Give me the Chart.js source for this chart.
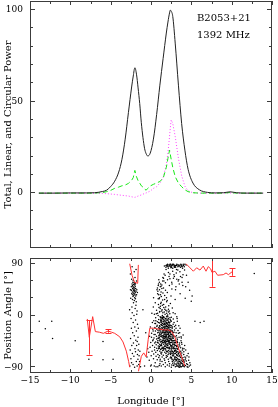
<!DOCTYPE html>
<html>
<head>
<meta charset="utf-8">
<script src="https://cdn.jsdelivr.net/npm/chart.js@4.4.0/dist/chart.umd.min.js"></script>
<style>
  html, body { margin: 0; padding: 0; background: #fff; }
  #wrap { position: relative; width: 278px; height: 407px; }
  canvas { position: absolute; left: 0; }
</style>
</head>
<body>
<div id="wrap">
  <canvas id="profile" width="278" height="250" style="top:0"></canvas>
  <canvas id="angle" width="278" height="157" style="top:250px"></canvas>
</div>
<script>
// B2053+21 at 1392 MHz: pulse profile (top) and polarization angle (bottom)

// ---- top panel: total, linear and circular power vs longitude ----
const profLon = [-13.9, -12, -10, -8, -7, -6, -5.5, -5, -4.5, -4, -3.6, -3.2, -2.8, -2.4, -2.2, -2.0,
  -1.8, -1.6, -1.4, -1.2, -1.0, -0.8, -0.6, -0.4, -0.1, 0.3, 0.7, 1.1, 1.5, 1.9, 2.1, 2.3, 2.4, 2.5,
  2.7, 3.0, 3.4, 3.8, 4.2, 4.6, 5.2, 6.0, 7.0, 8.0, 9.0, 9.8, 10.6, 12, 13.9];
const totalI = [0, 0, 0.1, 0.1, 0.2, 0.9, 1.6, 3.6, 6.5, 11.5, 18.5, 29.5, 44, 58, 64, 68.5,
  65, 57.5, 49, 38.5, 30.5, 24.5, 21.5, 20.3, 21.8, 29.5, 43, 59, 73.5, 87.5, 93.5, 98.5, 100, 99.5,
  96.5, 82, 59, 38, 23.5, 13, 5.5, 1.8, 0.4, 0.1, 0.2, 0.7, 0.2, 0, 0];
const linearL = [0, 0, 0, 0, 0, 0.3, 0.8, 1.5, 2.6, 3.3, 4, 4.4, 5.3, 7, 8.5, 12.4,
  9, 6.8, 5.5, 4, 3.3, 2.2, 1.6, 2.6, 3.9, 4.8, 5.5, 6.4, 8, 14, 19, 23.5, 21, 18.5,
  14, 9, 5.5, 3.5, 1.8, 0.8, 0.2, 0, 0, 0, 0, 0.3, 0, 0, 0];
const circV = [0, 0, 0, 0, -0.1, -0.2, -0.3, -0.5, -0.7, -1, -1.2, -1.4, -1.6, -2, -2.2, -2.3,
  -2, -1.6, -1.3, -1, -0.6, -0.2, 0.1, 0.5, 1.1, 2.6, 3.5, 5.5, 8.5, 15.5, 22, 31, 36, 40,
  38, 31, 19, 9.5, 3.8, 1.2, 0.2, 0, 0, 0, 0, 0.1, 0, 0, 0];

// ---- bottom panel: average position angle (null = wrap at +/-90) ----
const paLon = [-7.9, -7.65, -7.23, -6.9, -6.4, -5.9, -5.33, -4.9, -4.5, -3.88, -3.47, -3.06, -2.77, -2.64,
  -2.64,
  -2.64, -2.35, -2.05, -1.65, -1.57,
  -1.57,
  -1.55, -1.2, -0.9, -0.6, -0.35, -0.15, 0.3, 0.7, 1.1, 1.53, 2.15, 2.56, 2.97, 3.38, 3.8, 4.2,
  4.3,
  4.34, 4.83, 5.25, 5.66, 6.07, 6.48, 6.82, 7.1, 7.4, 7.56, 7.93, 8.26, 8.96, 9.3, 9.59, 10.05];
const paVal = [-6, -38, -2, -28, -29, -31, -27, -29, -31, -37, -46, -62, -80, -90,
  null,
  90, 70, 58, 56, 88,
  null,
  -97, -71, -65, -72, -42, -22, -22, -23, -24, -25, -25, -28, -38, -56, -72, -88,
  null,
  90, 83, 77, 83, 79, 86, 77, 85, 81, 75, 77, 70, 71, 74, 71, 76];
const errLon = [-7.65, -5.33, 7.56, 10.05];
const errLow = [-68, -30, 50, 69];
const errHigh = [-8, -24, 100, 82];

// single-pulse position angles, flat lon,pa pairs
const cloudSparse = [-13.85,-10, -13.1,-23, -12.3,-10, -12.2,-40, -9.4,-44, -7.7,-76, -5.95,-77, -5.95,-45,
  -4.7,-76, 5.45,-10, 6.57,-10, 12.8,73, 5.1,34, 6.1,-12, -0.8,-88, -0.5,-72, -0.65,-30, -1.0,10, -0.4,-58];

const cloudColumn = [-2.62,-88, -2.58,-60, -2.65,10, -2.55,45, -2.49,-75, -2.53,-40, -2.47,-5, -2.51,30,
  -2.44,50, -2.56,72, -2.41,-82, -2.38,-52, -2.43,-22, -2.36,15, -2.39,38, -2.42,44, -2.35,55, -2.4,63,
  -2.31,-66, -2.27,-30, -2.33,5, -2.29,28, -2.26,36, -2.32,41, -2.28,47, -2.3,52, -2.25,58, -2.34,85,
  -2.22,-85, -2.18,-48, -2.21,-12, -2.17,22, -2.23,33, -2.19,39, -2.16,43, -2.2,46, -2.24,50, -2.15,54,
  -2.21,61, -2.12,-71, -2.08,-35, -2.11,0, -2.07,26, -2.13,35, -2.09,38, -2.06,42, -2.1,45, -2.14,49,
  -2.05,53, -2.11,57, -2.08,76, -2.03,-90, -1.98,-58, -2.01,-20, -1.97,12, -2.02,31, -1.99,37, -1.96,40,
  -2.0,44, -2.04,48, -1.95,51, -2.01,56, -1.98,66, -1.92,-63, -1.88,-43, -1.91,-8, -1.87,18, -1.93,29,
  -1.89,34, -1.86,42, -1.9,47, -1.94,55, -1.85,80, -1.82,-80, -1.78,-52, -1.81,-27, -1.77,2, -1.83,24,
  -1.79,36, -1.76,45, -1.8,60, -1.72,-88, -1.68,-68, -1.71,-45, -1.67,-15, -1.73,8, -1.69,40,
  -1.62,-76, -1.58,-60, -1.61,-38, -1.57,-22, -1.52,-85, -1.48,-70, -1.51,-50, -1.42,-80, -1.38,-62, -1.3,-89];

const cloudMain = [
  -0.22,-78, -0.12,-55, -0.05,-88, -0.18,-36, -0.08,-20, -0.27,-64, -0.03,-47,
  0.04,-86, 0.13,-62, 0.21,-44, 0.08,-31, 0.17,-12, 0.02,-70, 0.23,-24, 0.11,4, 0.19,-52, 0.06,-38,
  0.31,-75, 0.44,-60, 0.27,-42, 0.38,-33, 0.48,-21, 0.35,-9, 0.42,2, 0.29,15, 0.46,-48, 0.33,-67,
  0.4,-88, 0.26,-27, 0.49,-14, 0.37,-39, 0.45,-55, 0.32,31,
  0.52,-82, 0.63,-71, 0.71,-57, 0.57,-46, 0.68,-36, 0.55,-27, 0.73,-19, 0.6,-9, 0.66,3, 0.53,22,
  0.74,45, 0.59,-64, 0.7,-41, 0.51,-33, 0.64,-51, 0.72,-24, 0.56,-14, 0.69,9, 0.62,-89, 0.58,-4,
  0.77,-77, 0.86,-68, 0.94,-58, 0.8,-47, 0.91,-39, 0.83,-30, 0.97,-21, 0.78,-11, 0.88,0, 0.99,14,
  0.82,38, 0.93,55, 0.85,-89, 0.96,-73, 0.79,-61, 0.9,-53, 0.84,-44, 0.98,-35, 0.87,-26, 0.76,-17,
  0.95,-7, 0.81,4, 0.92,19, 0.89,29, 0.8,48, 0.97,62,
  1.02,-87, 1.14,-76, 1.21,-65, 1.07,-54, 1.18,-46, 1.04,-38, 1.23,-29, 1.11,-22, 1.06,-13, 1.2,-4,
  1.09,7, 1.16,16, 1.01,29, 1.24,51, 1.12,-79, 1.05,-70, 1.19,-59, 1.08,-50, 1.22,-42, 1.03,-34,
  1.15,-27, 1.1,-19, 1.24,-11, 1.13,-2, 1.06,6, 1.2,21, 1.17,36, 1.04,58, 1.11,-84, 1.23,-16,
  1.09,-31, 1.18,-8, 1.02,-44, 1.14,12, 1.21,-36, 1.07,-25,
  1.27,-88, 1.38,-72, 1.46,-61, 1.31,-52, 1.42,-44, 1.29,-37, 1.48,-30, 1.35,-21, 1.26,-12, 1.44,-5,
  1.33,8, 1.4,18, 1.28,33, 1.47,66, 1.36,-80, 1.3,-67, 1.43,-57, 1.34,-49, 1.49,-41, 1.27,-34,
  1.39,-27, 1.45,-18, 1.32,-9, 1.41,0, 1.37,10, 1.26,23, 1.48,39, 1.35,53, 1.3,-24, 1.43,-14,
  1.38,-46, 1.46,-3, 1.28,-58, 1.4,-35, 1.33,-17, 1.47,5, 1.29,-6, 1.44,27,
  1.52,-85, 1.63,-75, 1.71,-64, 1.57,-55, 1.68,-46, 1.54,-39, 1.73,-31, 1.6,-24, 1.66,-16, 1.51,-7,
  1.74,2, 1.59,14, 1.69,28, 1.55,48, 1.62,72, 1.7,-78, 1.53,-69, 1.65,-58, 1.58,-50, 1.72,-43,
  1.56,-36, 1.67,-29, 1.61,-21, 1.74,-13, 1.52,-3, 1.64,6, 1.57,19, 1.7,35, 1.6,60, 1.66,86,
  1.54,-27, 1.72,-19, 1.58,-11, 1.68,-37, 1.63,-4, 1.51,-47, 1.73,-8, 1.56,-60, 1.69,-53, 1.62,-33,
  1.55,-15, 1.71,11,
  1.77,-89, 1.88,-73, 1.96,-62, 1.82,-53, 1.93,-45, 1.79,-38, 1.98,-32, 1.85,-25, 1.91,-17, 1.76,-10,
  1.99,-1, 1.84,9, 1.94,24, 1.8,44, 1.87,80, 1.95,88, 1.78,-82, 1.9,-70, 1.83,-60, 1.97,-51,
  1.81,-44, 1.92,-37, 1.86,-30, 1.99,-23, 1.77,-15, 1.89,-6, 1.95,4, 1.82,15, 1.92,31, 1.79,57,
  1.86,87, 1.84,-41, 1.96,-28, 1.76,-20, 1.9,-12, 1.8,-48, 1.98,-56, 1.87,-35, 1.93,-2, 1.78,-27,
  1.85,-66, 1.97,8, 1.89,-19,
  2.02,-86, 2.14,-76, 2.21,-65, 2.07,-56, 2.18,-48, 2.04,-41, 2.23,-34, 2.11,-27, 2.06,-19, 2.2,-11,
  2.09,-2, 2.16,11, 2.01,26, 2.24,68, 2.12,85, 2.05,89, 2.19,-80, 2.03,-71, 2.15,-61, 2.08,-52,
  2.22,-45, 2.1,-38, 2.17,-31, 2.05,-24, 2.24,-16, 2.13,-8, 2.07,1, 2.2,17, 2.02,40, 2.16,75,
  2.09,88, 2.22,-22, 2.11,-43, 2.04,-13, 2.18,-36, 2.14,-5, 2.23,-57, 2.06,-29, 2.12,-68, 2.19,6,
  2.01,-49, 2.15,-18,
  2.27,-88, 2.38,-74, 2.46,-64, 2.31,-55, 2.42,-47, 2.29,-40, 2.48,-33, 2.35,-26, 2.26,-18, 2.44,-9,
  2.33,3, 2.4,21, 2.28,52, 2.47,83, 2.36,87, 2.3,-84, 2.43,-72, 2.34,-62, 2.49,-54, 2.27,-46,
  2.39,-39, 2.45,-32, 2.32,-25, 2.41,-17, 2.37,-7, 2.26,8, 2.48,34, 2.35,64, 2.3,86, 2.44,89,
  2.29,-29, 2.46,-21, 2.38,-50, 2.33,-12, 2.42,-68, 2.27,-58, 2.47,-42, 2.36,-36,
  2.52,-90, 2.63,-77, 2.71,-67, 2.57,-58, 2.68,-50, 2.54,-43, 2.73,-36, 2.6,-28, 2.66,-20, 2.51,-10,
  2.74,5, 2.59,46, 2.69,77, 2.55,84, 2.62,88, 2.7,-83, 2.53,-73, 2.65,-63, 2.58,-55, 2.72,-48,
  2.56,-41, 2.67,-34, 2.61,-26, 2.74,-15, 2.52,-3, 2.64,13, 2.57,58, 2.7,82, 2.6,87, 2.66,-70,
  2.54,-60, 2.72,-30, 2.58,-86, 2.68,-44, 2.63,-22, 2.51,-52,
  2.77,-87, 2.88,-76, 2.96,-66, 2.82,-58, 2.93,-51, 2.79,-44, 2.98,-37, 2.85,-29, 2.91,-19, 2.76,-6,
  2.99,28, 2.84,71, 2.94,85, 2.8,89, 2.87,-81, 2.95,-72, 2.78,-64, 2.9,-57, 2.83,-50, 2.97,-43,
  2.81,-35, 2.92,-25, 2.86,-12, 2.99,3, 2.78,65, 2.9,84, 2.84,88, 2.96,-84, 2.8,-70, 2.93,-61,
  2.88,-47, 2.76,-39,
  3.02,-89, 3.14,-78, 3.21,-69, 3.07,-61, 3.18,-54, 3.04,-47, 3.23,-39, 3.11,-30, 3.06,-17, 3.2,-2,
  3.09,50, 3.16,80, 3.01,86, 3.12,-85, 3.05,-76, 3.19,-68, 3.08,-60, 3.22,-52, 3.03,-44, 3.15,-35,
  3.1,-22, 3.24,-5, 3.13,74, 3.06,87, 3.2,89, 3.17,-88, 3.01,-72, 3.11,-63, 3.24,-45, 3.04,45,
  3.27,-88, 3.38,-79, 3.46,-71, 3.31,-63, 3.42,-55, 3.29,-47, 3.48,-38, 3.35,-26, 3.26,-10, 3.44,62,
  3.33,85, 3.4,-83, 3.28,-75, 3.43,-67, 3.34,-59, 3.49,-51, 3.27,-42, 3.39,-31, 3.45,-18, 3.32,79,
  3.41,88, 3.36,-86, 3.47,-64, 3.3,-53, 3.37,60,
  3.52,-90, 3.63,-81, 3.71,-72, 3.57,-64, 3.68,-56, 3.54,-48, 3.73,-37, 3.6,-22, 3.66,68, 3.51,86,
  3.62,-86, 3.74,-78, 3.55,-70, 3.69,-62, 3.58,-53, 3.72,-44, 3.56,-30, 3.65,84, 3.7,89, 3.53,-80,
  3.67,-89, 3.61,38, 3.59,76,
  3.77,-89, 3.88,-80, 3.96,-73, 3.82,-65, 3.93,-57, 3.79,-47, 3.98,-34, 3.85,58, 3.91,82, 3.8,88,
  3.87,-84, 3.95,-77, 3.78,-69, 3.9,-60, 3.83,-50, 3.97,71, 3.84,86, 3.92,-88, 3.76,-39, 3.94,52,
  4.02,-88, 4.14,-81, 4.21,-72, 4.07,-63, 4.18,-52, 4.04,87, 4.11,-85, 4.23,-77, 4.06,-68, 4.16,79,
  4.2,89, 4.09,-58, 4.12,85, 4.24,30,
  4.27,-87, 4.38,-79, 4.46,-70, 4.31,-60, 4.42,-84, 4.35,88, 4.29,-74, 4.48,-89, 4.4,70,
  4.53,-85, 4.67,-78, 4.61,-66, 4.74,-88, 4.58,-90, 4.82,-82, 4.9,-86, 4.79,44, 4.99,25, 4.7,-72
];

// extra pulses in the dense core, the top strip and the mid-band
const cloudCore = [
  0.91,-48, 0.97,-29, 0.94,-12, 0.88,-40, 0.99,-55,
  1.03,-57, 1.08,-41, 1.13,-33, 1.19,-24, 1.24,-3, 1.16,-52, 1.05,-18, 1.22,-9, 1.1,-62, 1.01,-23,
  1.28,-45, 1.32,-31, 1.37,-3, 1.41,-22, 1.46,-38, 1.49,-11, 1.26,-51, 1.34,-64, 1.43,-29, 1.39,-55,
  1.3,-15, 1.47,-47,
  1.51,-26, 1.55,-43, 1.59,-35, 1.62,-9, 1.66,-45, 1.7,-22, 1.73,-54, 1.57,-2, 1.64,-40, 1.68,-14,
  1.53,-58, 1.6,-30, 1.72,-37, 1.65,-25, 1.56,-20, 1.74,-48,
  1.76,-33, 1.79,-5, 1.83,-46, 1.86,-22, 1.89,-39, 1.92,-55, 1.95,-14, 1.98,-42, 1.81,-29, 1.85,-50,
  1.9,-26, 1.94,-34, 1.97,-9, 1.78,-58, 1.88,-18, 1.93,-63, 1.8,-36, 1.99,-45,
  2.01,-33, 2.04,-52, 2.07,-15, 2.1,-25, 2.13,-45, 2.16,-39, 2.19,-21, 2.22,-30, 2.25,-50, 2.03,-8,
  2.08,-42, 2.12,-55, 2.17,-12, 2.21,-37, 2.24,-27, 2.06,-63, 2.14,-33, 2.2,-44, 2.02,-20,
  2.27,-35, 2.3,-48, 2.33,-20, 2.36,-58, 2.39,-30, 2.42,-41, 2.45,-25, 2.48,-62, 2.28,-13, 2.32,-43,
  2.38,-66, 2.44,-52, 2.47,-36, 2.35,-4, 2.41,-28,
  2.52,-47, 2.56,-33, 2.59,-66, 2.62,-38, 2.65,-53, 2.69,-29, 2.72,-57, 2.55,-18, 2.61,-46, 2.67,-62,
  2.73,-40, 2.58,-75, 2.64,-80,
  2.78,-55, 2.82,-67, 2.86,-44, 2.9,-62, 2.94,-74, 2.98,-58, 2.8,-78, 2.88,-53, 2.96,-48, 2.84,-86,
  3.03,-66, 3.08,-79, 3.12,-57, 3.17,-73, 3.22,-83, 3.05,-52, 3.15,-64, 3.2,-77,
  3.28,-70, 3.33,-81, 3.38,-66, 3.44,-76, 3.49,-86, 3.3,-58, 3.41,-89,
  3.55,-77, 3.6,-84, 3.66,-73, 3.71,-82, 3.57,-88, 3.64,-67,
  3.8,-83, 3.86,-75, 3.92,-86, 3.97,-80, 4.05,-78, 4.13,-89,
  1.85,84, 2.05,86, 2.25,88, 2.45,85, 2.65,89, 2.85,86, 3.05,84, 3.25,88, 3.45,86, 3.6,88,
  3.85,85, 4.0,89, 2.15,82, 2.55,86, 3.15,87, 3.75,86, 2.35,89, 2.95,87, 1.95,86,
  0.85,42, 0.95,36, 1.05,45, 1.15,50, 1.25,41, 1.35,47, 1.05,31, 0.9,52, 1.45,60, 1.2,55,
  1.55,65, 1.75,70, 2.05,62, 2.35,72, 2.6,55, 2.9,68, 3.2,63, 3.5,55, 3.85,66, 4.3,50, 4.6,58
];

// ---- axes ----
const lonTicks = [-15, -12.5, -10, -7.5, -5, -2.5, 0, 2.5, 5, 7.5, 10, 12.5, 15];
const lonLabels = [-15, -10, -5, 0, 5, 10, 15];
const powerTicks = [-20, -10, 0, 10, 20, 30, 40, 50, 60, 70, 80, 90, 100];
const powerLabels = [0, 50, 100];
const paTicks = [-90, -60, -30, 0, 30, 60, 90];
const paLabels = [-90, 0, 90];
const notes = ['B2053+21', '1392 MHz'];

Chart.defaults.font.family = '"DejaVu Serif", serif';
Chart.defaults.font.size = 9;
Chart.defaults.color = '#000';

const minus = v => (v < 0 ? '\u2212' + Math.abs(v) : String(v));
const pairs = (xs, ys) => xs.map((x, i) => ({ x: x, y: ys[i] }));
const flatPairs = arr => {
  const out = [];
  for (let i = 0; i < arr.length; i += 2) out.push({ x: arr[i], y: arr[i + 1] });
  return out;
};

// inward tick marks on all four sides, frame, error bars, annotations
const framePlugin = {
  id: 'frame',
  afterDatasetsDraw(chart, args, o) {
    const ctx = chart.ctx, a = chart.chartArea;
    const xs = chart.scales.x, ys = chart.scales.y;
    ctx.save();
    ctx.lineWidth = 1;

    if (o.errors) {
      ctx.save();
      ctx.beginPath();
      ctx.rect(a.left, a.top, a.right - a.left, a.bottom - a.top);
      ctx.clip();
      ctx.strokeStyle = '#ff3030';
      ctx.beginPath();
      o.errors.lon.forEach((lon, i) => {
        const px = Math.round(xs.getPixelForValue(lon)) + 0.5;
        const y1 = ys.getPixelForValue(o.errors.low[i]);
        const y2 = ys.getPixelForValue(o.errors.high[i]);
        ctx.moveTo(px, y1); ctx.lineTo(px, y2);
        ctx.moveTo(px - 3, Math.round(y1) + 0.5); ctx.lineTo(px + 3, Math.round(y1) + 0.5);
        ctx.moveTo(px - 3, Math.round(y2) + 0.5); ctx.lineTo(px + 3, Math.round(y2) + 0.5);
      });
      ctx.stroke();
      ctx.restore();
    }

    ctx.strokeStyle = '#3c3c3c';
    ctx.beginPath();
    o.xTicks.forEach(v => {
      const p = Math.round(xs.getPixelForValue(v)) + 0.5;
      const len = o.xMajor.includes(v) ? 4 : 3;
      ctx.moveTo(p, a.bottom); ctx.lineTo(p, a.bottom - len);
      ctx.moveTo(p, a.top); ctx.lineTo(p, a.top + len);
    });
    o.yTicks.forEach(v => {
      const p = Math.round(ys.getPixelForValue(v)) - 0.5;
      const len = o.yMajor.includes(v) ? 5 : 3;
      ctx.moveTo(a.left, p); ctx.lineTo(a.left + len, p);
      ctx.moveTo(a.right, p); ctx.lineTo(a.right - len, p);
    });
    ctx.stroke();
    ctx.strokeRect(a.left + 0.5, a.top + 0.5, a.right - a.left - 1, a.bottom - a.top - 1);

    if (o.notes) {
      ctx.fillStyle = '#000';
      ctx.font = '10px "DejaVu Serif", serif';
      ctx.textBaseline = 'middle';
      o.notes.forEach((t, i) => ctx.fillText(t, 197, 18 + i * 17));
    }
    ctx.restore();
  }
};

const fixY = s => { s.width = 30; s.paddingTop = 0; s.paddingBottom = 0; };
const titleFont = { size: 10 };

// top chart
new Chart(document.getElementById('profile'), {
  type: 'line',
  data: {
    datasets: [
      { data: pairs(profLon, totalI), borderColor: '#222', borderWidth: 1, pointRadius: 0,
        cubicInterpolationMode: 'monotone' },
      { data: pairs(profLon, linearL), borderColor: '#18e818', borderWidth: 1, pointRadius: 0,
        borderDash: [5, 3] },
      { data: pairs(profLon, circV), borderColor: '#ff40ff', borderWidth: 1, pointRadius: 0,
        borderDash: [1, 2] }
    ]
  },
  options: {
    responsive: false,
    animation: false,
    events: [],
    layout: { padding: { top: 1, right: 6, bottom: 2, left: 0 } },
    plugins: {
      legend: { display: false },
      tooltip: { enabled: false },
      frame: { xTicks: lonTicks, xMajor: lonLabels, yTicks: powerTicks, yMajor: powerLabels, notes: notes }
    },
    scales: {
      x: { type: 'linear', min: -15, max: 15, display: false },
      y: {
        min: -30, max: 105,
        afterBuildTicks: s => { s.ticks = powerLabels.map(v => ({ value: v })); },
        afterFit: fixY,
        grid: { display: false, drawTicks: false },
        border: { display: false },
        ticks: { padding: 7, callback: minus },
        title: { display: true, text: 'Total, Linear, and Circular Power', font: titleFont,
          padding: { top: 2, bottom: 0 } }
      }
    }
  },
  plugins: [framePlugin]
});

// bottom chart
const cloudPts = flatPairs(cloudSparse).concat(flatPairs(cloudColumn), flatPairs(cloudMain), flatPairs(cloudCore));

new Chart(document.getElementById('angle'), {
  type: 'scatter',
  data: {
    datasets: [
      { data: pairs(paLon, paVal), showLine: true, spanGaps: false, borderColor: '#ff3030',
        borderWidth: 1, pointRadius: 0 },
      { data: cloudPts, pointRadius: 0.75, borderWidth: 0, backgroundColor: '#000',
        pointBackgroundColor: '#000', pointHoverRadius: 0 }
    ]
  },
  options: {
    responsive: false,
    animation: false,
    events: [],
    layout: { padding: { top: 8, right: 6, bottom: 0, left: 0 } },
    plugins: {
      legend: { display: false },
      tooltip: { enabled: false },
      frame: { xTicks: lonTicks, xMajor: lonLabels, yTicks: paTicks, yMajor: paLabels,
        errors: { lon: errLon, low: errLow, high: errHigh } }
    },
    scales: {
      x: {
        type: 'linear', min: -15, max: 15,
        afterBuildTicks: s => { s.ticks = lonLabels.map(v => ({ value: v })); },
        afterFit: s => { s.height = 34; s.paddingLeft = 0; s.paddingRight = 0; },
        grid: { display: false, drawTicks: false },
        border: { display: false },
        ticks: { padding: 2, autoSkip: false, maxRotation: 0, callback: minus },
        title: { display: true, text: 'Longitude [\u00b0]', font: titleFont, padding: { top: 0, bottom: 0 } }
      },
      y: {
        min: -100, max: 100,
        afterBuildTicks: s => { s.ticks = paLabels.map(v => ({ value: v })); },
        afterFit: fixY,
        grid: { display: false, drawTicks: false },
        border: { display: false },
        ticks: { padding: 7, callback: minus },
        title: { display: true, text: 'Position Angle [\u00b0]', font: titleFont, padding: { top: 2, bottom: 0 } }
      }
    }
  },
  plugins: [framePlugin]
});
</script>
</body>
</html>
